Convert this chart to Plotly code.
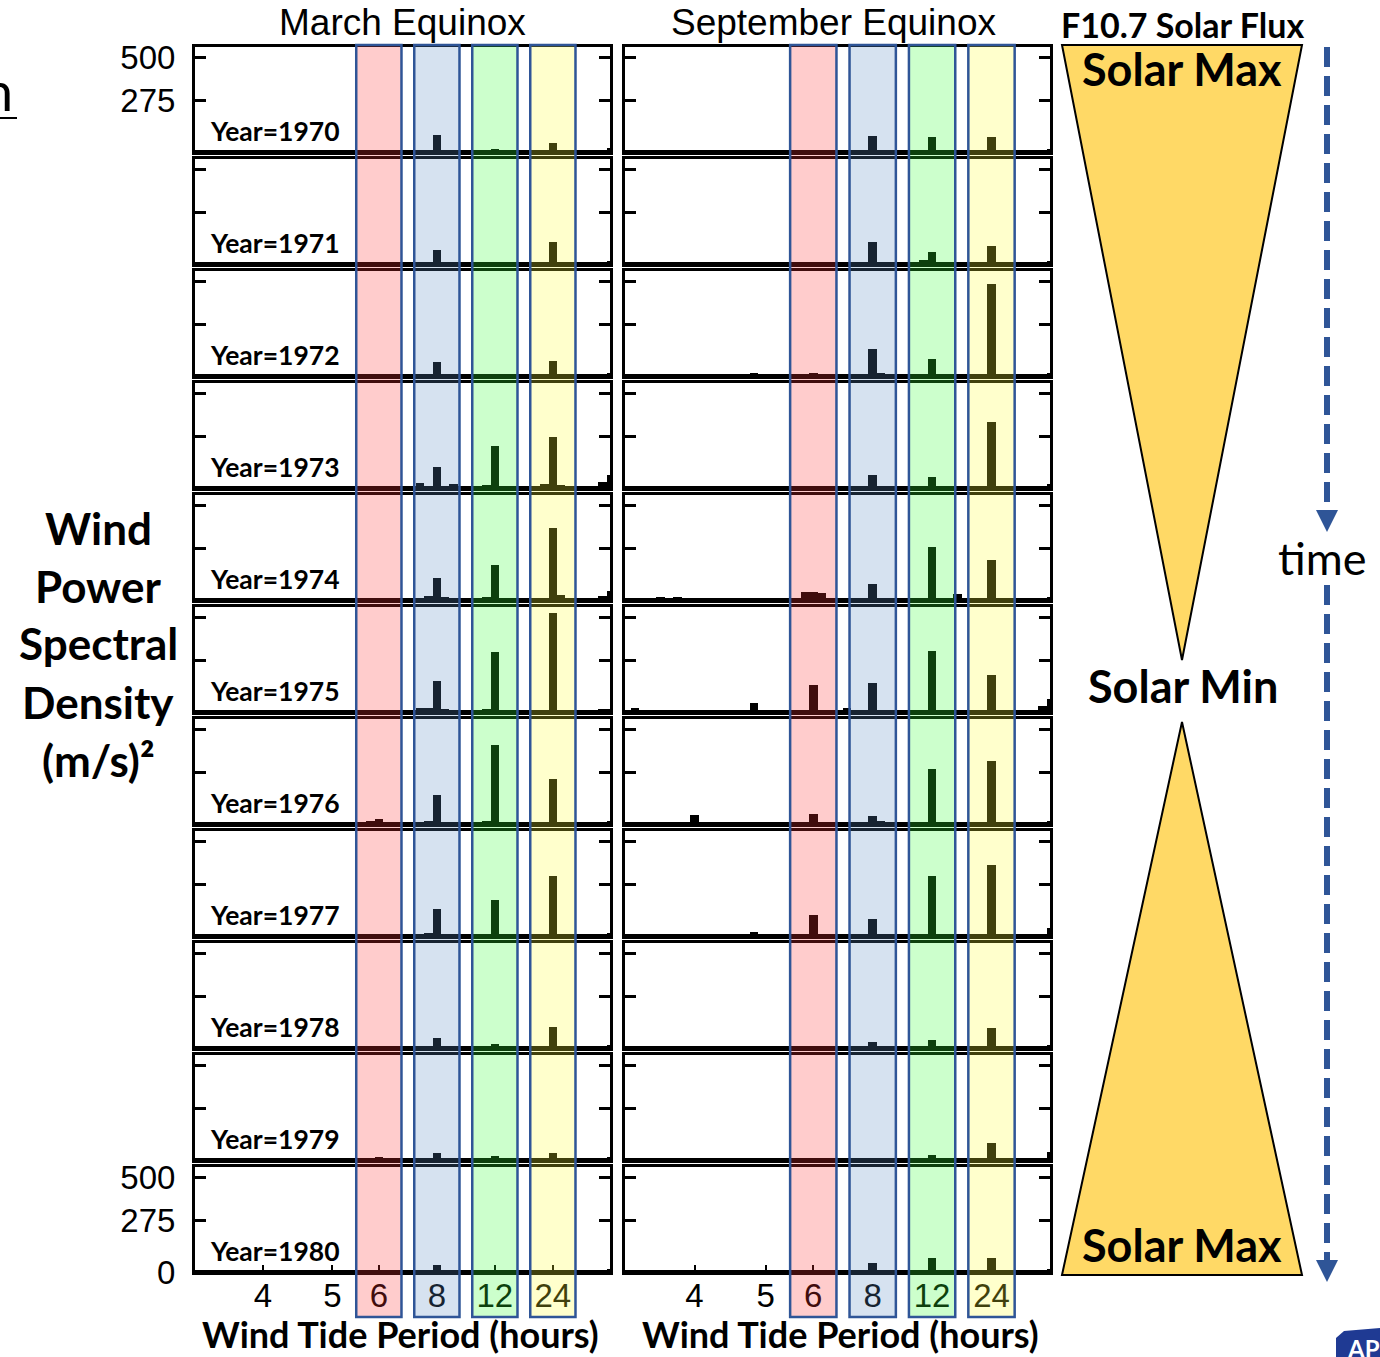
import plotly.graph_objects as go
from plotly.subplots import make_subplots

# ---------------- data ----------------
years = [1970, 1971, 1972, 1973, 1974, 1975, 1976, 1977, 1978, 1979, 1980]
tick_freq = [6, 4.8, 4, 3, 2, 1]          # cycles per day
tick_text = ["4", "5", "6", "8", "12", "24"]  # period in hours
band_freq = [4, 3, 2, 1]                  # 6h, 8h, 12h, 24h tides

n_bins = 51
bin_step = 1 / 7  # cycles/day per spectral bin

# spectral power (m/s)^2 at the tidal bins, one value per year
mar_p24 = [48, 117, 80, 271, 383, 527, 240, 319, 112, 37, 10]
mar_p12 = [15, 12, 12, 223, 186, 319, 420, 191, 21, 21, 12]
mar_p8 = [90, 75, 75, 112, 117, 165, 154, 144, 53, 37, 37]
mar_p6 = [8, 6, 6, 10, 8, 8, 27, 8, 6, 16, 10]

sep_p24 = [80, 96, 489, 351, 213, 197, 335, 378, 106, 90, 74]
sep_p12 = [80, 64, 90, 58, 282, 324, 292, 319, 42, 27, 74]
sep_p8 = [85, 117, 144, 69, 85, 154, 42, 90, 32, 12, 48]
sep_p6 = [10, 8, 15, 12, 40, 144, 53, 112, 10, 8, 10]

# other visible features: (bin index, value) per year
mar_extra = [
    [(0, 20)],
    [],
    [],
    [(0, 69), (1, 32), (23, 25), (19, 22), (15, 18), (8, 20), (6, 15)],
    [(0, 48), (1, 20), (22, 20), (20, 18), (6, 25), (15, 15)],
    [(22, 21), (23, 21), (20, 15), (15, 15), (1, 14)],
    [(29, 15), (22, 18), (15, 16)],
    [(22, 15)],
    [],
    [],
    [],
]
sep_extra = [
    [],
    [(15, 20)],
    [(35, 15), (20, 15)],
    [(0, 20)],
    [(29, 40), (27, 35), (11, 32), (0, 18), (46, 16), (44, 18)],
    [(35, 48), (49, 22), (0, 69), (1, 30), (24, 20)],
    [(42, 48), (20, 16)],
    [(0, 42), (35, 21)],
    [],
    [(0, 42)],
    [],
]

# noise floor of the spectra (bin 0 = 0 cycles/day)
floor = [14, 12, 10, 9, 8, 9, 10, 12, 11, 9, 8, 10, 9, 8, 12, 10, 9, 8, 9, 10,
         9, 11, 10, 9, 8, 9, 10, 8, 12, 10, 9, 8, 7, 8, 9, 10, 8, 7, 9, 8,
         10, 9, 7, 8, 9, 10, 8, 9, 11, 10, 12]

# ---------------- helpers ----------------
W, H = 1380, 1357


def px(x):
    return x / W


def py(y):
    return 1 - y / H


freq = [i * bin_step for i in range(n_bins)]


def spectrum(k, p24, p12, p8, p6, extra):
    vals = list(floor)
    for f, v in zip(band_freq, [p6[k], p8[k], p12[k], p24[k]]):
        i = int(round(f / bin_step))
        vals[i] = max(vals[i], v)
    for i, v in extra[k]:
        vals[i] = max(vals[i], v)
    return vals


fig = make_subplots(rows=11, cols=2)

col_px = [(195, 610), (625, 1050)]
for k in range(11):
    top = 47 + 112 * k
    bot = 152 + 112 * k
    for c in range(2):
        if c == 0:
            vals = spectrum(k, mar_p24, mar_p12, mar_p8, mar_p6, mar_extra)
        else:
            vals = spectrum(k, sep_p24, sep_p12, sep_p8, sep_p6, sep_extra)
        fig.add_trace(go.Bar(x=freq, y=vals, width=bin_step,
                             marker=dict(color="black", line_width=0),
                             showlegend=False, hoverinfo="skip"),
                      row=k + 1, col=c + 1)
        last = (k == 10)
        fig.update_xaxes(domain=[px(col_px[c][0]), px(col_px[c][1])], automargin=False,
                         range=[7.17, 0.015], showgrid=False, zeroline=False,
                         showline=True, linewidth=3, linecolor="black", mirror=True,
                         tickvals=tick_freq, ticktext=tick_text,
                         ticks="inside" if last else "", ticklen=7, tickwidth=1.5,
                         tickcolor="black",
                         showticklabels=last, ticklabelstandoff=-8,
                         tickfont=dict(family="Liberation Sans", size=33, color="black"),
                         row=k + 1, col=c + 1)
        if c == 0 and k == 10:
            yt = [0, 275, 500]
        else:
            yt = [275, 500]
        fig.update_yaxes(domain=[py(bot), py(top)], range=[0, 558], automargin=False,
                         showgrid=False, zeroline=False,
                         showline=True, linewidth=3, linecolor="black", mirror="ticks",
                         tickvals=yt, ticks="inside", ticklen=11, tickwidth=2.5,
                         tickcolor="black",
                         showticklabels=(c == 0 and k in (0, 10)),
                         ticklabelstandoff=10,
                         tickfont=dict(family="Liberation Sans", size=33, color="black"),
                         row=k + 1, col=c + 1)

annotations = []
shapes = []

# year labels
for k, yr in enumerate(years):
    bot = 152 + 112 * k
    annotations.append(dict(x=px(208), y=py(bot - 21), text=f"<b>Year={yr}</b>",
                            xanchor="left", font=dict(family="Lato", size=26.5)))

# titles and texts
annotations += [
    dict(x=px(402), y=py(23), text="March Equinox", font=dict(family="Liberation Sans", size=37)),
    dict(x=px(833), y=py(23), text="September Equinox", font=dict(family="Liberation Sans", size=37)),
    dict(x=px(400), y=py(1334), text="<b>Wind Tide Period (hours)</b>",
         font=dict(family="Lato", size=36)),
    dict(x=px(840), y=py(1334), text="<b>Wind Tide Period (hours)</b>",
         font=dict(family="Lato", size=36)),
    dict(x=px(1182), y=py(25), text="<b>F10.7 Solar Flux</b>", font=dict(family="Lato", size=34)),
    dict(x=px(1182), y=py(69), text="<b>Solar Max</b>", font=dict(family="Lato", size=45)),
    dict(x=px(1183), y=py(686), text="<b>Solar Min</b>", font=dict(family="Lato", size=45)),
    dict(x=px(1182), y=py(1245), text="<b>Solar Max</b>", font=dict(family="Lato", size=45)),
    dict(x=px(1322), y=py(558), text="time", font=dict(family="Lato", size=45)),
]
for txt, yy in zip(["Wind", "Power", "Spectral", "Density", "(m/s)²"], [528, 586, 643, 702, 760]):
    annotations.append(dict(x=px(98), y=py(yy), text=f"<b>{txt}</b>",
                            font=dict(family="Lato", size=44)))
annotations.append(dict(x=px(15), y=py(90), text="n", xanchor="right",
                        font=dict(family="Lato", size=54)))
annotations.append(dict(x=px(1345), y=py(1348), text="<b>APL</b>", xanchor="left",
                        font=dict(family="Lato", size=24, color="white")))
for a in annotations:
    a["xref"] = "paper"
    a["yref"] = "paper"
    a["showarrow"] = False
    a.setdefault("xanchor", "center")
    a.setdefault("yanchor", "middle")
    a["font"].setdefault("color", "black")

# tidal bands (overlay, tinting what lies beneath like the original)
band_fill = ["rgba(255,51,51,0.25)", "rgba(91,139,195,0.25)",
             "rgba(51,255,51,0.25)", "rgba(255,255,51,0.25)"]
half = 0.39
for xr in ["x", "x2"]:
    for f, fc in zip(band_freq, band_fill):
        shapes.append(dict(type="rect", xref=xr, yref="paper", x0=f - half, x1=f + half,
                           y0=py(1317), y1=py(45), fillcolor=fc, line=dict(width=0),
                           layer="above"))
        shapes.append(dict(type="rect", xref=xr, yref="paper", x0=f - half, x1=f + half,
                           y0=py(1317), y1=py(45), fillcolor="rgba(0,0,0,0)",
                           line=dict(color="#2F5597", width=2.5), layer="above"))


def path(pts):
    return "M " + " L ".join(f"{px(a)},{py(b)}" for a, b in pts) + " Z"


# solar flux triangles
shapes.append(dict(type="path", xref="paper", yref="paper",
                   path=path([(1062, 45), (1302, 45), (1182, 660)]),
                   fillcolor="#FFD966", line=dict(color="black", width=2), layer="below"))
shapes.append(dict(type="path", xref="paper", yref="paper",
                   path=path([(1182, 722), (1302, 1275), (1062, 1275)]),
                   fillcolor="#FFD966", line=dict(color="black", width=2), layer="below"))

# time arrow
arrow_c = "#2F5597"
shapes.append(dict(type="line", xref="paper", yref="paper", x0=px(1327), x1=px(1327),
                   y0=py(47), y1=py(512), line=dict(color=arrow_c, width=6, dash="20px,9px")))
shapes.append(dict(type="path", xref="paper", yref="paper",
                   path=path([(1316, 510), (1338, 510), (1327, 532)]),
                   fillcolor=arrow_c, line=dict(width=0)))
shapes.append(dict(type="line", xref="paper", yref="paper", x0=px(1327), x1=px(1327),
                   y0=py(585), y1=py(1260), line=dict(color=arrow_c, width=6, dash="20px,9px")))
shapes.append(dict(type="path", xref="paper", yref="paper",
                   path=path([(1316, 1260), (1338, 1260), (1327, 1282)]),
                   fillcolor=arrow_c, line=dict(width=0)))

# cropped slide remnants
shapes.append(dict(type="line", xref="paper", yref="paper", x0=0, x1=px(17),
                   y0=py(118), y1=py(118), line=dict(color="black", width=2)))
shapes.append(dict(type="path", xref="paper", yref="paper",
                   path=path([(1336, 1357), (1336, 1338), (1344, 1331), (1380, 1328), (1380, 1357)]),
                   fillcolor="#1F3A93", line=dict(width=0), layer="below"))

fig.update_layout(template="none", width=W, height=H, margin=dict(l=0, r=0, t=0, b=0),
                  paper_bgcolor="white", plot_bgcolor="rgba(0,0,0,0)",
                  annotations=annotations, shapes=shapes, bargap=0)

fig.write_html("out.html")
